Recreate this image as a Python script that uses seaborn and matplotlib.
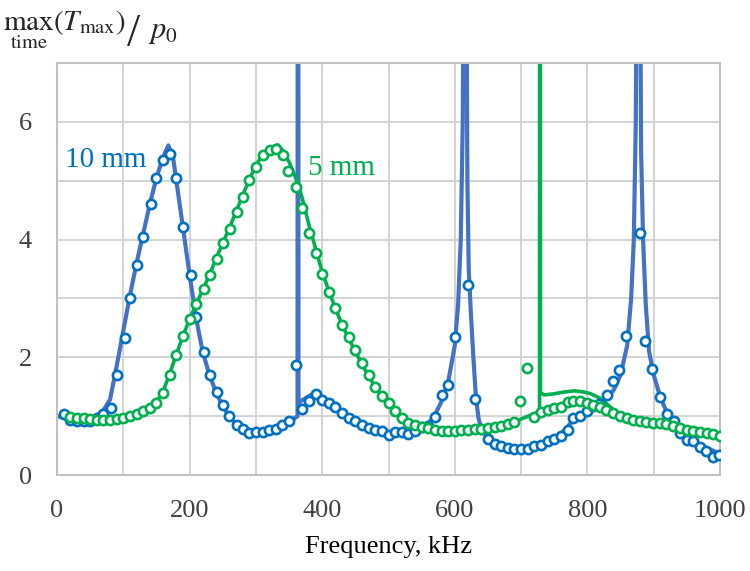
import numpy as np
import pandas as pd
import matplotlib.pyplot as plt
import seaborn as sns

# 10 mm: measured points (open circles)
f10_pts = [10, 20, 30, 40, 50, 60, 70, 81, 90, 102, 110, 120, 130, 142, 150, 160, 171, 180, 190, 202,
           210, 221, 231, 241, 250, 260, 271, 281, 290, 300, 310, 320, 330, 340, 350, 360, 370, 380, 391, 400,
           410, 420, 430, 440, 450, 460, 470, 480, 490, 500, 510, 520, 530, 540, 550, 560, 570, 580, 590, 600,
           620, 630, 640, 650, 660, 670, 680, 690, 700, 710, 720, 730, 740, 750, 760, 770, 779, 789, 799, 809,
           818, 829, 839, 848, 858, 879, 887, 898, 910, 920, 930, 940, 950, 960, 970, 979, 990, 999]
v10_pts = [1.03, 0.94, 0.92, 0.92, 0.92, 0.96, 1.04, 1.13, 1.70, 2.32, 3.00, 3.57, 4.05, 4.60, 5.05, 5.36, 5.46, 5.05, 4.21, 3.40,
           2.69, 2.09, 1.70, 1.41, 1.19, 1.00, 0.85, 0.78, 0.72, 0.73, 0.73, 0.76, 0.79, 0.85, 0.91, 1.87, 1.12, 1.26, 1.38, 1.28,
           1.22, 1.15, 1.05, 0.97, 0.91, 0.85, 0.80, 0.76, 0.74, 0.68, 0.73, 0.73, 0.70, 0.74, 0.81, 0.84, 0.99, 1.36, 1.53, 2.35,
           3.23, 1.29, 0.79, 0.61, 0.53, 0.50, 0.46, 0.45, 0.45, 0.45, 0.50, 0.51, 0.57, 0.62, 0.66, 0.77, 0.96, 1.00, 1.08, 1.17,
           1.21, 1.36, 1.59, 1.79, 2.36, 4.11, 2.28, 1.80, 1.33, 1.04, 0.91, 0.72, 0.60, 0.57, 0.47, 0.40, 0.30, 0.34]

# 10 mm: calculated curve
f10_line = [0, 10, 20, 30, 40, 50, 60, 70, 80, 90, 100, 110, 120, 130, 140, 150, 160, 168, 175, 180,
            190, 200, 210, 220, 230, 240, 250, 260, 270, 280, 290, 300, 310, 320, 330, 340, 350, 358, 362.8, 363.5,
            364.2, 367, 380, 392, 400, 410, 420, 430, 440, 450, 460, 470, 480, 490, 500, 510, 520, 530, 540, 550,
            560, 570, 580, 590, 600, 605, 609, 612, 614, 615.5, 617, 619, 621, 624, 628, 632, 636, 640, 650, 660,
            670, 680, 690, 700, 710, 720, 730, 740, 750, 760, 770, 780, 790, 800, 810, 820, 830, 840, 850, 860,
            866, 870, 873, 875, 877, 879, 881, 884, 888, 893, 900, 910, 920, 930, 940, 950, 960, 970, 980, 990, 1000]
v10_line = [1.00, 0.97, 0.93, 0.92, 0.93, 0.96, 1.01, 1.10, 1.28, 1.85, 2.45, 3.05, 3.60, 4.10, 4.60, 5.05, 5.40, 5.60, 5.40, 5.00,
            4.20, 3.40, 2.65, 2.08, 1.70, 1.40, 1.17, 0.99, 0.86, 0.79, 0.75, 0.74, 0.75, 0.78, 0.81, 0.86, 0.91, 0.96, 1.00, 30.0,
            1.20, 1.25, 1.34, 1.42, 1.33, 1.24, 1.14, 1.04, 0.96, 0.90, 0.85, 0.80, 0.76, 0.73, 0.71, 0.71, 0.71, 0.72, 0.76, 0.80,
            0.88, 1.02, 1.25, 1.58, 2.20, 2.90, 4.00, 6.00, 10.0, 30.0, 10.0, 5.00, 3.50, 2.80, 2.00, 1.30, 0.95, 0.78, 0.62, 0.53,
            0.48, 0.46, 0.45, 0.45, 0.46, 0.48, 0.52, 0.57, 0.63, 0.70, 0.82, 0.95, 1.03, 1.10, 1.16, 1.22, 1.30, 1.45, 1.70, 2.20,
            3.00, 4.00, 6.00, 10.0, 30.0, 10.0, 5.50, 4.00, 2.90, 2.10, 1.70, 1.32, 1.06, 0.90, 0.78, 0.67, 0.59, 0.52, 0.46, 0.41, 0.36]

# 5 mm: measured points
f5_pts = [20, 30, 40, 50, 60, 70, 80, 90, 100, 110, 120, 130, 140, 150, 160, 170, 180, 190, 200, 210,
          221, 231, 241, 250, 261, 271, 280, 290, 300, 311, 322, 331, 341, 349, 361, 370, 380, 391, 400, 411,
          420, 430, 440, 450, 460, 470, 480, 490, 500, 510, 520, 530, 540, 550, 560, 570, 580, 590, 600, 610,
          620, 630, 640, 650, 660, 670, 680, 689, 698, 709, 720, 730, 740, 750, 760, 770, 779, 789, 799, 809,
          819, 828, 839, 849, 859, 869, 879, 889, 899, 909, 919, 929, 940, 950, 960, 970, 980, 990, 1000]
v5_pts = [0.99, 0.96, 0.96, 0.95, 0.94, 0.94, 0.94, 0.95, 0.96, 1.00, 1.04, 1.08, 1.14, 1.22, 1.39, 1.70, 2.04, 2.36, 2.65, 2.90,
          3.16, 3.40, 3.67, 3.94, 4.18, 4.46, 4.73, 5.01, 5.24, 5.43, 5.52, 5.54, 5.44, 5.16, 4.90, 4.53, 4.12, 3.77, 3.41, 3.11,
          2.83, 2.55, 2.35, 2.12, 1.90, 1.70, 1.50, 1.34, 1.22, 1.09, 0.96, 0.89, 0.85, 0.82, 0.80, 0.77, 0.75, 0.75, 0.75, 0.76,
          0.77, 0.78, 0.78, 0.80, 0.81, 0.83, 0.86, 0.90, 1.26, 1.82, 0.99, 1.07, 1.11, 1.14, 1.16, 1.24, 1.25, 1.25, 1.22, 1.19,
          1.16, 1.10, 1.05, 1.00, 0.97, 0.94, 0.92, 0.90, 0.89, 0.88, 0.86, 0.83, 0.80, 0.77, 0.75, 0.73, 0.71, 0.70, 0.67]

# 5 mm: calculated curve
f5_line = [0, 10, 20, 30, 40, 50, 60, 70, 80, 90, 100, 110, 120, 130, 140, 150, 160, 170, 180, 190,
           200, 210, 220, 230, 240, 250, 260, 270, 280, 290, 300, 310, 320, 333, 340, 350, 360, 370, 380, 390,
           400, 410, 420, 430, 440, 450, 460, 470, 480, 490, 500, 510, 520, 530, 540, 550, 560, 570, 580, 590,
           600, 620, 640, 660, 680, 700, 715, 727.8, 728.5, 729.2, 735, 750, 765, 780, 795, 805, 820, 830, 845, 860,
           880, 900, 920, 940, 960, 980, 1000]
v5_line = [1.00, 0.98, 0.96, 0.95, 0.94, 0.93, 0.93, 0.93, 0.94, 0.95, 0.97, 1.00, 1.03, 1.08, 1.14, 1.24, 1.42, 1.72, 2.05, 2.36,
           2.65, 2.90, 3.15, 3.40, 3.68, 3.94, 4.20, 4.47, 4.75, 5.02, 5.26, 5.44, 5.55, 5.61, 5.52, 5.32, 5.05, 4.70, 4.25, 3.85,
           3.45, 3.13, 2.83, 2.55, 2.32, 2.10, 1.88, 1.68, 1.50, 1.34, 1.20, 1.08, 0.98, 0.90, 0.85, 0.82, 0.79, 0.77, 0.76, 0.75,
           0.75, 0.76, 0.78, 0.81, 0.87, 0.95, 1.02, 1.08, 30.0, 1.40, 1.36, 1.38, 1.41, 1.43, 1.41, 1.38, 1.30, 1.20, 1.05, 0.98,
           0.93, 0.89, 0.86, 0.80, 0.76, 0.72, 0.68]

x_ticks = list(range(0, 1001, 100))
x_labels = ['0', '', '200', '', '400', '', '600', '', '800', '', '1000']
y_ticks = list(range(0, 8))
y_labels = ['0', '', '2', '', '4', '', '6', '']

blue_line = '#4472C4'
blue_pts = '#0070C0'
green = '#00B050'

sns.set_theme(style='whitegrid')
plt.rcParams['font.family'] = ['Liberation Serif', 'DejaVu Serif']
plt.rcParams['mathtext.fontset'] = 'stix'

fig = plt.figure(figsize=(7.5, 5.71), dpi=100)
ax = fig.add_axes([57/750, 1 - 475/571, 663/750, 412/571])

sns.lineplot(x=f10_line, y=v10_line, ax=ax, color=blue_line, lw=3, estimator=None, sort=False, zorder=2)
sns.lineplot(x=f5_line, y=v5_line, ax=ax, color=green, lw=2.6, estimator=None, sort=False, zorder=2)
sns.scatterplot(x=f10_pts, y=v10_pts, ax=ax, marker='o', s=44, color='white', edgecolor=blue_pts,
                linewidth=1.9, zorder=3)
sns.scatterplot(x=f5_pts, y=v5_pts, ax=ax, marker='o', s=44, color='white', edgecolor=green,
                linewidth=1.9, zorder=3)

ax.set_xlim(0, 1000)
ax.set_ylim(0, 7)
ax.set_xticks(x_ticks)
ax.set_xticklabels(x_labels)
ax.set_yticks(y_ticks)
ax.set_yticklabels(y_labels)
ax.tick_params(axis='both', length=0, labelsize=19, labelcolor='#404040')
ax.tick_params(axis='x', pad=18)
ax.tick_params(axis='y', pad=18)
ax.grid(True, color='#d0d0d0', lw=1.3)
for s in ax.spines.values():
    s.set_color('#c0c0c0')
    s.set_linewidth(1.5)

ax.set_xlabel('Frequency, kHz', fontsize=19, color='black', labelpad=10)
ax.set_ylabel('')

ax.text(12, 5.24, '10 mm', color=blue_pts, fontsize=21, va='baseline', ha='left')
ax.text(378, 5.10, '5 mm', color=green, fontsize=21, va='baseline', ha='left')

# y-axis title in the top-left corner
fig.text(3/750, 1 - 30/571, r'$\max_{\mathrm{time}}\left(T_{\max}\right)$', fontsize=21, va='baseline', ha='left')
fig.text(127/750, 1 - 46/571, '/', fontsize=34, va='baseline', ha='left')
fig.text(148/750, 1 - 38/571, r'$p_0$', fontsize=22, va='baseline', ha='left')

fig.savefig('out.png', dpi=100)
